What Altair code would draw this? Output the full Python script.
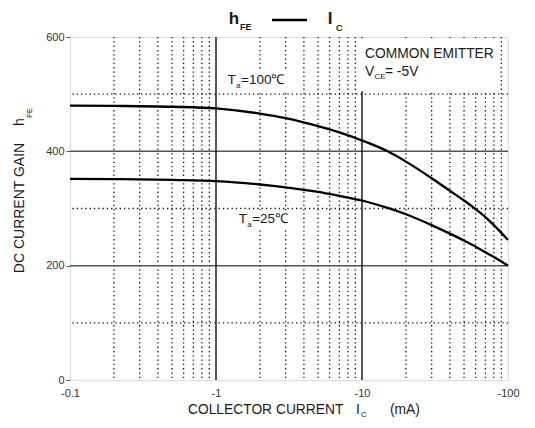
import altair as alt
import pandas as pd

# ---- data ----
ic_ma = [0.1, 0.2, 0.5, 1, 2, 3, 5, 7, 10, 15, 20, 30, 40, 50, 60, 70, 80, 100]
hfe_ta100 = [480, 479.5, 478, 475, 466, 458, 444, 433, 419, 400, 382, 353, 331, 314, 299, 285, 271, 245]
hfe_ta25 = [352, 351.5, 350, 348, 342, 337, 329, 322, 314, 301, 290, 271, 256, 244, 233, 223.5, 215, 200]

x_tick_values = [0.1, 1, 10, 100]
y_tick_values = [0, 200, 400, 600]
x_major_grid = [1, 10]
x_minor_grid = [2, 3, 4, 5, 6, 7, 8, 9]
x_decades = [0.1, 1, 10]
y_major_grid = [200, 400]
y_minor_grid = [100, 300, 500]

FONT = "Liberation Sans"
W, H = 438, 343

rows = []
for x, a, b in zip(ic_ma, hfe_ta100, hfe_ta25):
    rows.append({"ic": x, "hfe": a, "series": "Ta=100"})
    rows.append({"ic": x, "hfe": b, "series": "Ta=25"})
curves_df = pd.DataFrame(rows)

xscale = alt.Scale(type="log", domain=[0.1, 100], nice=False)
yscale = alt.Scale(domain=[0, 600], nice=False, zero=False)

XAX = alt.Axis(
    values=x_tick_values, labelExpr="'-' + datum.value", title=None,
    grid=False, ticks=False, domain=False, labelPadding=7,
    labelFont=FONT, labelFontSize=11, labelColor="#333", labelFlush=False)
YAX = alt.Axis(
    values=y_tick_values, title=None, grid=False, ticks=True, tickSize=4,
    tickColor="#555", domain=False, labelPadding=2, labelFont=FONT,
    labelFontSize=11, labelColor="#333")


def X(field):
    return alt.X(field, scale=xscale, axis=XAX)


def Y(field):
    return alt.Y(field, scale=yscale, axis=YAX)


minor_x = pd.DataFrame({"v": [k * d for d in x_decades for k in x_minor_grid]})
major_x = pd.DataFrame({"v": x_major_grid})
minor_y = pd.DataFrame({"v": y_minor_grid})
major_y = pd.DataFrame({"v": y_major_grid})

grid_minor_x = alt.Chart(minor_x).mark_rule(
    color="#111", strokeWidth=1.3, strokeDash=[1.3, 3]
).encode(x=X("v:Q"))
grid_minor_y = alt.Chart(minor_y).mark_rule(
    color="#111", strokeWidth=1.3, strokeDash=[1.3, 3]
).encode(y=Y("v:Q"))
grid_major_x = alt.Chart(major_x).mark_rule(
    color="#111", strokeWidth=1.4
).encode(x=X("v:Q"))
grid_major_y = alt.Chart(major_y).mark_rule(
    color="#555", strokeWidth=1.5
).encode(y=Y("v:Q"))

# white boxes behind the in-plot labels (grid is interrupted there)
label_boxes = pd.DataFrame({
    "x1": [9.3, 1.19, 1.41],
    "x2": [88.0, 3.25, 3.35],
    "y1": [505, 505, 263],
    "y2": [598, 541, 297],
})
boxes = alt.Chart(label_boxes).mark_rect(color="white").encode(
    x=X("x1:Q"), x2="x2", y=Y("y1:Q"), y2="y2")

lines = alt.Chart(curves_df).mark_line(
    color="black", strokeWidth=2.3, interpolate="monotone"
).encode(
    x=X("ic:Q"),
    y=Y("hfe:Q"),
    detail="series:N",
)


def txt(df, size=13.5, dx=0, dy=0, bold=False, align="left"):
    return alt.Chart(df).mark_text(
        font=FONT, fontSize=size, dx=dx, dy=dy, align=align, baseline="middle",
        color="#1a1a1a", fontWeight="bold" if bold else "normal"
    ).encode(
        x=X("x:Q"),
        y=Y("y:Q"),
        text="t:N",
    )


def ptxt(t, x, y, size=13.5, bold=False, align="left", angle=0):
    return alt.Chart(pd.DataFrame({"t": [t]})).mark_text(
        font=FONT, fontSize=size, align=align, baseline="middle", angle=angle,
        color="#1a1a1a", fontWeight="bold" if bold else "normal"
    ).encode(x=alt.value(x), y=alt.value(y), text="t:N")


# in-plot annotations anchored in data coordinates
ta100 = pd.DataFrame({"x": [1.20], "y": [524.6]})
ta25 = pd.DataFrame({"x": [1.43], "y": [282.5]})
ce = pd.DataFrame({"x": [10.48], "y": [570.0]})
vce = pd.DataFrame({"x": [10.48], "y": [538.6]})

annots = [
    txt(ta100.assign(t="T"), 13.5),
    txt(ta100.assign(t="a"), 8, dx=8.5, dy=6),
    txt(ta100.assign(t="=100℃"), 13.5, dx=13.5),
    txt(ta25.assign(t="T"), 13.5),
    txt(ta25.assign(t="a"), 8, dx=8.5, dy=6),
    txt(ta25.assign(t="=25℃"), 13.5, dx=13.5),
    txt(ce.assign(t="COMMON EMITTER"), 13.8),
    txt(vce.assign(t="V"), 13.8),
    txt(vce.assign(t="CE"), 8, dx=9.5, dy=5),
    txt(vce.assign(t="= -5V"), 13.8, dx=20),
]

# chart title and axis titles (pixel positions relative to plot area)
titles = [
    ptxt("h", 164, -18, 17, bold=True, align="center"),
    ptxt("FE", 170, -10, 9, bold=True),
    alt.Chart(pd.DataFrame({"a": [0]})).mark_rule(color="black", strokeWidth=2.4).encode(
        x=alt.value(202), x2=alt.value(237), y=alt.value(-17)),
    ptxt("I", 260, -18, 17, bold=True, align="center"),
    ptxt("C", 266, -9, 9, bold=True),
    ptxt("COLLECTOR CURRENT", 118, 373, 13.8),
    ptxt("I", 288, 373, 13.8, align="center"),
    ptxt("C", 291, 378, 8),
    ptxt("(mA)", 320, 373, 13.8),
    ptxt("DC CURRENT GAIN", -50, 171, 14, align="center", angle=270),
    ptxt("h", -50, 85, 14, align="center", angle=270),
    ptxt("FE", -40, 76, 8, align="center", angle=270),
]

chart = alt.layer(
    grid_minor_x, grid_minor_y, grid_major_y, grid_major_x, boxes, lines, *annots, *titles
).properties(
    width=W, height=H,
    autosize=alt.AutoSizeParams(type="none"),
    padding={"left": 62, "top": 29, "right": 19, "bottom": 40},
).configure_view(stroke="black", strokeWidth=2).configure(background="white")

chart.save("out.html", embed_options={"renderer": "svg", "actions": False})
